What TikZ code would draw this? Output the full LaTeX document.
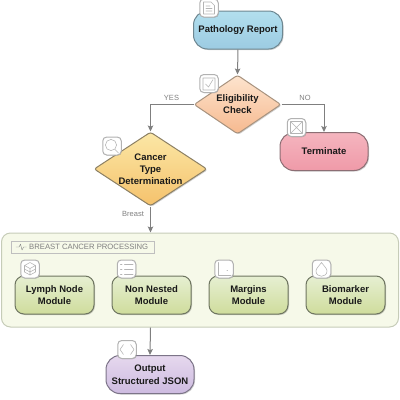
\documentclass[tikz,border=0pt]{standalone}
\usepackage{fontspec}
\setmainfont{Liberation Sans}
\usetikzlibrary{arrows.meta,shapes.geometric,shadows,calc}
\definecolor{edgec}{HTML}{7F7F7F}
\definecolor{glyphc}{HTML}{B4B4B4}
\definecolor{bluetop}{HTML}{B2DFEE}\definecolor{bluebot}{HTML}{9CCBE2}\definecolor{blueedge}{HTML}{6E8791}
\definecolor{redtop}{HTML}{F5B5BF}\definecolor{redbot}{HTML}{EF9AA8}\definecolor{rededge}{HTML}{8C6E74}
\definecolor{purpletop}{HTML}{E6D8EE}\definecolor{purplebot}{HTML}{CDBBE0}\definecolor{purpleedge}{HTML}{7C7488}
\definecolor{greentop}{HTML}{E6EFD2}\definecolor{greenbot}{HTML}{CFDC9C}\definecolor{greenedge}{HTML}{6E7560}
\definecolor{peachtop}{HTML}{FDE4CE}\definecolor{peachbot}{HTML}{F6B98F}\definecolor{peachedge}{HTML}{A8937F}
\definecolor{goldtop}{HTML}{FBE7A6}\definecolor{goldbot}{HTML}{F5C26C}\definecolor{goldedge}{HTML}{8C8064}
\definecolor{panelfill}{HTML}{F6F9E9}\definecolor{paneledge}{HTML}{C6CCB8}
\tikzset{
  x=1pt,y=-1pt,
  boxbase/.style={rounded corners=14pt,line width=1pt,minimum height=38pt,inner sep=0pt,align=center,
    font=\fontsize{9.5}{12.5}\selectfont\bfseries,text=black!90,
    drop shadow={shadow xshift=1pt,shadow yshift=-1pt,fill=black,opacity=.18}},
  startbox/.style={boxbase,minimum width=89pt,top color=bluetop,bottom color=bluebot,draw=blueedge},
  stopbox/.style={boxbase,minimum width=88pt,top color=redtop,bottom color=redbot,draw=rededge},
  outbox/.style={boxbase,minimum width=88pt,top color=purpletop,bottom color=purplebot,draw=purpleedge},
  modbox/.style={boxbase,rounded corners=9pt,minimum width=79pt,top color=greentop,bottom color=greenbot,draw=greenedge},
  decbox/.style={diamond,inner sep=0pt,line width=1pt,rounded corners=2.5pt,
    drop shadow={shadow xshift=1pt,shadow yshift=-1pt,fill=black,opacity=.18}},
  dectext/.style={align=center,inner sep=0pt,font=\fontsize{9.5}{12}\selectfont\bfseries,text=black!90},
  iconbox/.style={rounded corners=4pt,fill=white,draw=black!30,line width=1pt,minimum width=18.5pt,minimum height=18pt,inner sep=0pt,
    drop shadow={shadow xshift=.6pt,shadow yshift=-.6pt,fill=black,opacity=.2}},
  glyph/.style={draw=glyphc,line width=.55pt,line cap=round,line join=round},
  flow/.style={draw=edgec,line width=1pt,-{Stealth[length=6pt,width=5.5pt,inset=1.2pt]}},
  flowlabel/.style={text=edgec,inner sep=0pt,font=\fontsize{7.5}{8}\selectfont},
}
\begin{document}
\begin{tikzpicture}
\useasboundingbox (0,0) rectangle (400,400);
% panel
\node[draw=paneledge,fill=panelfill,line width=1pt,rounded corners=9pt,minimum width=397pt,minimum height=94pt,inner sep=0pt] (panel) at (200,280) {};
\node[draw=black!25,fill=panelfill,line width=.6pt,minimum width=143pt,minimum height=12pt,inner sep=0pt] (paneltitle) at (82.5,247) {};
\node[text=black!50,inner sep=0pt,font=\fontsize{7.7}{8}\selectfont,anchor=west] (paneltext) at (29,247) {BREAST CANCER PROCESSING};
\draw[glyph,line width=.45pt,draw=black!45] (16,247)--(19,247)--(20.5,244)--(22,250)--(23.5,247)--(26.5,247);
% nodes
\node[startbox] (report) at (238,30) {Pathology Report};
\node[decbox,top color=peachtop,bottom color=peachbot,draw=peachedge,minimum width=87pt,minimum height=59pt,aspect=1.47] (elig) at (237.5,104.5) {};
\node[dectext] (eligt) at (237.5,104.5) {Eligibility\\Check};
\node[decbox,top color=goldtop,bottom color=goldbot,draw=goldedge,minimum width=113pt,minimum height=74pt,aspect=1.53] (cancer) at (150.5,169) {};
\node[dectext] (cancert) at (150.5,169) {Cancer\\Type\\Determination};
\node[stopbox] (term) at (324,151.5) {Terminate};
\node[modbox] (lymph) at (54.5,295) {Lymph Node\\Module};
\node[modbox] (nested) at (151.5,295) {Non Nested\\Module};
\node[modbox] (margins) at (248.5,295) {Margins\\Module};
\node[modbox] (biomarker) at (345.5,295) {Biomarker\\Module};
\node[outbox] (output) at (150,374.5) {Output\\Structured JSON};
% connectors
\draw[flow] (report.south) -- (elig.north);
\draw[flow] (elig.west) -| (cancer.north);
\draw[flow] (elig.east) -| (term.north);
\draw[flow] (cancer.south) -- (cancer.south |- panel.north);
\draw[flow] (cancer.south |- panel.south) -- (output.north);
\node[flowlabel] (yes) at (171.5,98) {YES};
\node[flowlabel] (no) at (305,97.5) {NO};
\node[flowlabel] (breast) at (133,214) {Breast};
% icons
\node[iconbox] (i1) at (209,8) {};
\draw[glyph] (203.5,2)--(211,2)--(214.5,5.5)--(214.5,14)--(203.5,14)--cycle (206,6)--(210,6) (206,8.5)--(212,8.5) (206,11)--(212,11);
\node[iconbox] (i2) at (209,83.5) {};
\draw[glyph] (203,78)--(215,78)--(215,90)--(203,90)--cycle (205.5,84)--(208.5,87)--(213,79.5);
\node[iconbox] (i3) at (112,146) {};
\draw[glyph] (111,145) circle (5.6pt) (115,149.5)--(118.5,153);
\node[iconbox] (i4) at (296.5,127.5) {};
\draw[glyph] (290.5,121.5)--(302.5,121.5)--(302.5,133.5)--(290.5,133.5)--cycle (291,122)--(302,133) (302,122)--(291,133);
\node[iconbox] (i5) at (30,269) {};
\draw[glyph] (30,262.5)--(35.5,265.5)--(35.5,272)--(30,275)--(24.5,272)--(24.5,265.5)--cycle (24.5,265.5)--(30,268.5)--(35.5,265.5) (24.5,269)--(30,272)--(35.5,269) (30,268.5)--(30,275);
\node[iconbox] (i6) at (126.5,269) {};
\draw[glyph] (120.5,264)--(122,264) (124.5,264)--(133,264) (120.5,269)--(122,269) (124.5,269)--(133,269) (120.5,274)--(122,274) (124.5,274)--(133,274);
\node[iconbox] (i7) at (224,269) {};
\draw[glyph] (218,262.5)--(218,275)--(231,275) (227,270)--(227.6,270);
\node[iconbox] (i8) at (321.5,269) {};
\draw[glyph] (321.5,262.5) .. controls (319,266) and (316,268.5) .. (316,271) .. controls (316,278) and (327,278) .. (327,271) .. controls (327,268.5) and (324,266) .. (321.5,262.5) -- cycle;
\node[iconbox] (i9) at (127,349.5) {};
\draw[glyph] (123.5,344.5)--(120,349.5)--(123.5,354.5) (130.5,344.5)--(134,349.5)--(130.5,354.5);
\end{tikzpicture}
\end{document}
